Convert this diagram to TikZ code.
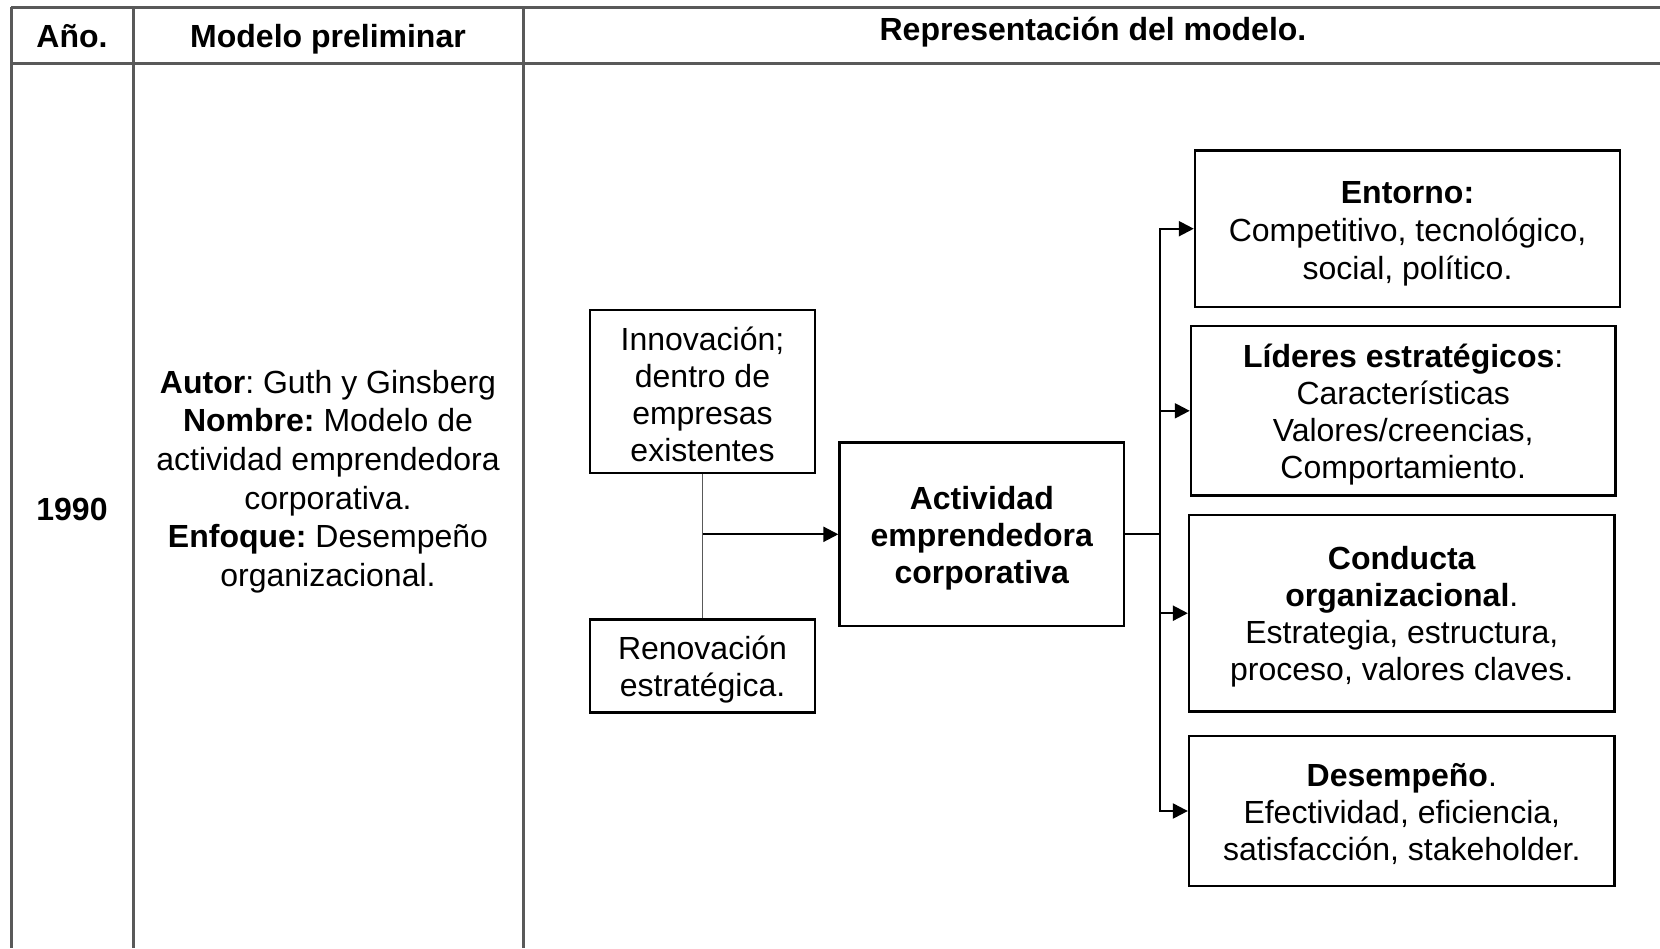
\documentclass[tikz,border=0pt]{standalone}
\usepackage{fontspec}
\setmainfont{Liberation Sans}
\usetikzlibrary{arrows.meta}
\definecolor{tblgray}{HTML}{595959}
\frenchspacing
\newcommand\boxlines[2][-2.3pt]{\raisebox{#1}[\height][\depth]{\begin{tabular}{@{}c@{}}#2\end{tabular}}}
\begin{document}
\begin{tikzpicture}[x=0.5pt,y=-0.5pt,
  txt/.style={font=\fontsize{16pt}{18.5pt}\selectfont, align=center, inner sep=0pt},
  hdr/.style={font=\fontsize{16pt}{18.5pt}\selectfont\bfseries, inner sep=0pt, anchor=base},
  tblline/.style={draw=tblgray, line width=1.5pt},
  box/.style={draw=black, line width=1.2pt, txt, minimum width=#1},
  conn/.style={draw=black, line width=1.1pt},
  arr/.style={conn, -{Triangle[length=7.5pt,width=7.5pt]}}
]
\useasboundingbox (0,0) rectangle (1660,948);
% table
\draw[tblline] (11,7) -- (1660,7);
\draw[tblline] (11,63) -- (1660,63);
\draw[tblline] (11,7) -- (11,948);
\draw[tblline] (133,7) -- (133,948);
\draw[tblline] (523,7) -- (523,948);
% header
\node[hdr] (h1) at (72,47) {Año.};
\node[hdr] (h2) at (328,47) {Modelo preliminar};
\node[hdr] (h3) at (1093,40) {Representación del modelo.};
% row
\node[txt, font=\fontsize{16pt}{18.5pt}\selectfont\bfseries] (yr) at (72,509) {1990};
\node[txt, font=\fontsize{16pt}{19.3pt}\selectfont] (desc) at (328,481.5) {\textbf{Autor}: Guth y Ginsberg\\ \textbf{Nombre:} Modelo de\\ actividad emprendedora\\ corporativa.\\ \textbf{Enfoque:} Desempeño\\ organizacional.};
% diagram boxes
\node[box=225.5pt*0.5, minimum height=163*0.5pt] (inn) at (702.5,391.7) {\boxlines[-3.6pt]{Innovación;\\ dentro de\\ empresas\\ existentes}};
\node[box=225.5pt*0.5, minimum height=93.2*0.5pt] (ren) at (702.5,665.9) {\boxlines{Renovación\\ estratégica.}};
\node[box=284.5pt*0.5, minimum height=183.5*0.5pt] (act) at (981.8,534.3) {\boxlines{\textbf{Actividad}\\ \textbf{emprendedora}\\ \textbf{corporativa}}};
\node[box=425pt*0.5, minimum height=156.7*0.5pt, font=\fontsize{16pt}{19pt}\selectfont] (ent) at (1407.5,228.7) {\boxlines[-2.8pt]{\textbf{Entorno:}\\ Competitivo, tecnológico,\\ social, político.}};
\node[box=424.5pt*0.5, minimum height=169.5*0.5pt] (lid) at (1403.2,410.8) {\boxlines{\textbf{Líderes estratégicos}:\\ Características\\ Valores/creencias,\\ Comportamiento.}};
\node[box=425.5pt*0.5, minimum height=196.4*0.5pt] (con) at (1401.8,613.2) {\boxlines{\textbf{Conducta}\\ \textbf{organizacional}.\\ Estrategia, estructura,\\ proceso, valores claves.}};
\node[box=425.5pt*0.5, minimum height=150.3*0.5pt] (des) at (1401.8,811) {\boxlines{\textbf{Desempeño}.\\ Efectividad, eficiencia,\\ satisfacción, stakeholder.}};
% connectors
\draw[draw=tblgray, line width=0.7pt] (inn.south) -- (ren.north);
\draw[arr] (inn.south |- act.west) -- (act.west);
\coordinate (bus) at (1160,534.3);
\draw[conn] (act.east) -- (bus);
\draw[arr] (bus) |- (ent.west);
\draw[arr] (bus) |- (des.west);
\draw[arr] (bus |- lid.west) -- (lid.west);
\draw[arr] (bus |- con.west) -- (con.west);
\end{tikzpicture}
\end{document}
